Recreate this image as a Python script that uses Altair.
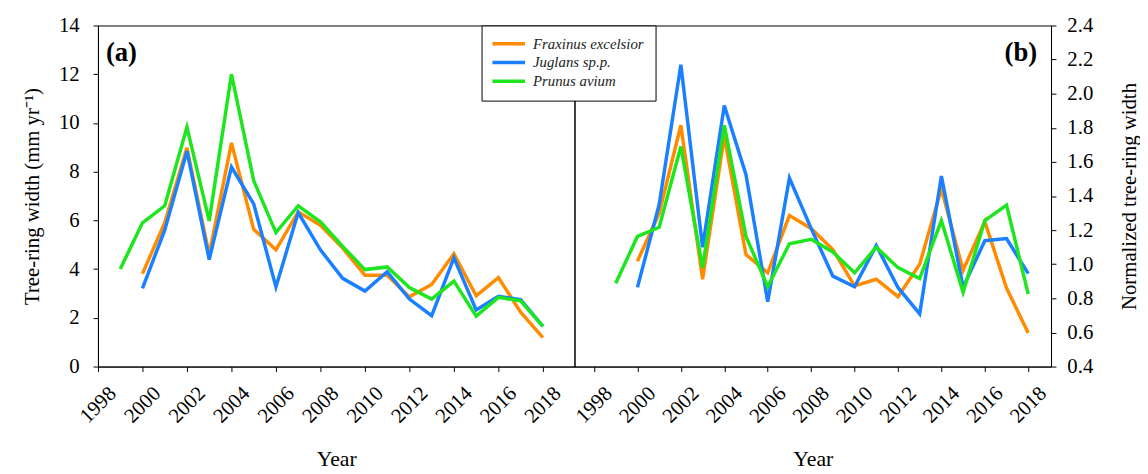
import altair as alt
import pandas as pd

species = ["Fraxinus excelsior", "Juglans sp.p.", "Prunus avium"]
colors = ["#FF8C00", "#1A80FF", "#1EE61E"]

years_prunus = list(range(1999, 2019))
years_other = list(range(2000, 2019))

# Panel (a): tree-ring width (mm/yr)
fraxinus_abs = [3.81, 5.9, 8.98, 4.6, 9.18, 5.63, 4.79, 6.35, 5.8, 4.86, 3.75, 3.75, 2.86, 3.37, 4.63, 2.9, 3.65, 2.23, 1.19]
juglans_abs = [3.21, 5.6, 8.84, 4.39, 8.19, 6.68, 3.27, 6.32, 4.79, 3.62, 3.1, 3.89, 2.77, 2.09, 4.46, 2.32, 2.88, 2.75, 1.65]
prunus_abs = [4.0, 5.9, 6.6, 9.83, 5.98, 12.0, 7.63, 5.5, 6.6, 5.94, 4.93, 3.98, 4.09, 3.24, 2.77, 3.51, 2.07, 2.84, 2.70, 1.65]

# Panel (b): normalized tree-ring width
fraxinus_norm = [1.018, 1.30, 1.815, 0.912, 1.75, 1.057, 0.95, 1.285, 1.21, 1.086, 0.873, 0.912, 0.81, 1.0, 1.443, 0.964, 1.25, 0.86, 0.597]
juglans_norm = [0.864, 1.35, 2.17, 1.10, 1.93, 1.525, 0.78, 1.505, 1.21, 0.93, 0.868, 1.11, 0.864, 0.709, 1.517, 0.864, 1.138, 1.15, 0.945]
prunus_norm = [0.889, 1.163, 1.217, 1.69, 0.98, 1.815, 1.163, 0.868, 1.12, 1.146, 1.072, 0.95, 1.10, 0.98, 0.916, 1.256, 0.835, 1.256, 1.347, 0.825]

x_ticks = list(range(1998, 2019, 2))
y_ticks_abs = list(range(0, 15, 2))
y_ticks_norm = [0.4, 0.6, 0.8, 1.0, 1.2, 1.4, 1.6, 1.8, 2.0, 2.2, 2.4]


def build(series):
    rows = []
    for sp, yrs, vals in series:
        for yr, v in zip(yrs, vals):
            rows.append({"year": yr, "value": v, "species": sp})
    return pd.DataFrame(rows)


df_abs = build([
    (species[0], years_other, fraxinus_abs),
    (species[1], years_other, juglans_abs),
    (species[2], years_prunus, prunus_abs),
])
df_norm = build([
    (species[0], years_other, fraxinus_norm),
    (species[1], years_other, juglans_norm),
    (species[2], years_prunus, prunus_norm),
])

FONT = "Liberation Serif"
W, H = 482, 345

color = alt.Color(
    "species:N",
    scale=alt.Scale(domain=species, range=colors),
    legend=alt.Legend(
        title=None, orient="none", legendX=388, legendY=0,
        symbolType="M-3,0L3,0", symbolSize=121, symbolStrokeWidth=3.5,
        symbolOffset=9,
        labelFont=FONT, labelFontStyle="italic", labelFontSize=15,
        labelColor="#222", rowPadding=3, padding=11, labelOffset=17,
        strokeColor="black", fillColor="white",
        labelExpr="datum.label + '\u00a0\u00a0\u00a0\u00a0\u00a0\u00a0\u00a0\u00a0\u00a0\u00a0'",
    ),
)


def x_axis():
    return alt.Axis(values=x_ticks, format="d", labelAngle=315, labelAlign="right",
                    labelBaseline="top", labelPadding=11, labelOffset=7,
                    labelOverlap=False, labelBound=False, labelFlush=False,
                    labelFont=FONT, labelFontSize=21,
                    title="Year", titleFont=FONT, titleFontSize=22,
                    titlePadding=23, tickSize=5, grid=False)


left_lines = alt.Chart(df_abs).mark_line(strokeWidth=3.5).encode(
    x=alt.X("year:Q", scale=alt.Scale(domain=[1998, 2019.42], nice=False, zero=False), axis=x_axis()),
    y=alt.Y("value:Q", scale=alt.Scale(domain=[0, 14], nice=False),
            axis=alt.Axis(values=y_ticks_abs, title="Tree-ring width (mm yr\u207b\u00b9)",
                          labelFont=FONT, labelFontSize=21, titleFont=FONT, titleFontSize=21,
                          labelOverlap=False, labelFlush=False,
                          labelPadding=14, tickSize=5, titlePadding=16, grid=False)),
    color=color,
)
label_a = alt.Chart(pd.DataFrame({"t": ["(a)"]})).mark_text(
    font=FONT, fontSize=27, fontWeight="bold", align="left", baseline="alphabetic", color="black"
).encode(text="t:N", x=alt.value(8), y=alt.value(36))

right_lines = alt.Chart(df_norm).mark_line(strokeWidth=3.5).encode(
    x=alt.X("year:Q", scale=alt.Scale(domain=[1997.1, 2019.05], nice=False, zero=False), axis=x_axis()),
    y=alt.Y("value:Q", scale=alt.Scale(domain=[0.4, 2.4], nice=False),
            axis=alt.Axis(values=y_ticks_norm, format=".1f", orient="right",
                          labelFont=FONT, labelFontSize=21, titleFont=FONT, titleFontSize=21,
                          labelOverlap=False, labelFlush=False,
                          title="Normalized tree-ring width", titleAngle=270,
                          labelPadding=11, tickSize=5, titlePadding=47, grid=False)),
    color=color,
)
label_b = alt.Chart(pd.DataFrame({"t": ["(b)"]})).mark_text(
    font=FONT, fontSize=27, fontWeight="bold", align="right", baseline="alphabetic", color="black"
).encode(text="t:N", x=alt.value(468), y=alt.value(36))

left = alt.layer(left_lines, label_a).properties(width=W, height=H)
right = alt.layer(right_lines, label_b).properties(width=W, height=H)

chart = alt.hconcat(left, right, spacing=0, bounds="flush").properties(
    padding={"left": 13, "top": 3, "right": 0, "bottom": 0}
).configure_view(
    stroke="black", strokeWidth=1
).configure_axis(
    labelFont=FONT, titleFont=FONT,
    titleFontWeight="normal", labelColor="black", titleColor="black",
    domainColor="black", tickColor="black", domainWidth=1, tickWidth=1,
)

chart.save("out.html", embed_options={"renderer": "svg", "actions": False})
